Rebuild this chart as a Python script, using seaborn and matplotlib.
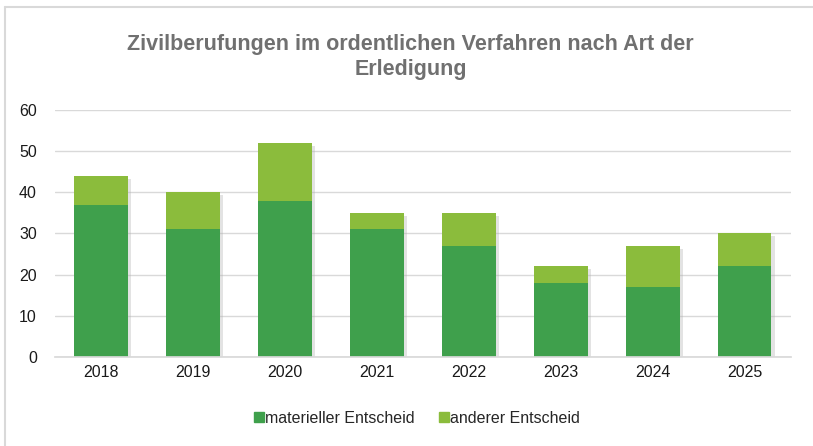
import numpy as np
import pandas as pd
import matplotlib
matplotlib.use("Agg")
import matplotlib.pyplot as plt
import matplotlib.patheffects as pe
from matplotlib.patches import Patch
from matplotlib.lines import Line2D
import seaborn as sns

# Data
years = ["2018", "2019", "2020", "2021", "2022", "2023", "2024", "2025"]
materiell = [37, 31, 38, 31, 27, 18, 17, 22]
anderer = [7, 9, 14, 4, 8, 4, 10, 8]

dark_green = "#3FA04C"
light_green = "#8BBC3C"

df = pd.DataFrame({"Jahr": years, "materiell": materiell, "anderer": anderer})
df["total"] = df["materiell"] + df["anderer"]

sns.set_theme(style="white")
plt.rcParams["font.family"] = ["Liberation Sans", "DejaVu Sans"]

fig = plt.figure(figsize=(8.13, 4.46), dpi=100)
ax = fig.add_axes([0.0677, 0.1996, 0.905, 0.5538])

shadow = [pe.SimplePatchShadow(offset=(2.5, -2), shadow_rgbFace="#b0b0b0", alpha=0.35), pe.Normal()]

# stacked bars: total in light green, materiell on top in dark green
sns.barplot(data=df, x="Jahr", y="total", color=light_green, saturation=1,
            width=0.58, ax=ax, linewidth=0)
sns.barplot(data=df, x="Jahr", y="materiell", color=dark_green, saturation=1,
            width=0.58, ax=ax, linewidth=0)
for i, p in enumerate(ax.patches):
    if i < len(years):
        p.set_path_effects(shadow)

ax.set_ylim(0, 60)
ax.set_xlim(-0.5, len(years) - 0.5)
ax.set_yticks(range(0, 61, 10))
ax.yaxis.grid(True, color="#d9d9d9", linewidth=1)
ax.set_axisbelow(True)
for s in ["top", "right", "left"]:
    ax.spines[s].set_visible(False)
ax.spines["bottom"].set_color("#d9d9d9")
ax.set_xlabel("")
ax.set_ylabel("")
ax.tick_params(axis="both", labelsize=11.5, colors="#1a1a1a", length=0, pad=6)
ax.tick_params(axis="y", pad=13)

fig.text(0.505, 0.872, "Zivilberufungen im ordentlichen Verfahren nach Art der\nErledigung",
         ha="center", va="center", fontsize=15.5, fontweight="bold", color="#707070",
         linespacing=1.3)

handles = [Patch(color=dark_green, label="materieller Entscheid"),
           Patch(color=light_green, label="anderer Entscheid")]
fig.legend(handles=handles, loc="center", bbox_to_anchor=(0.513, 0.062), ncol=2,
           frameon=False, fontsize=11.5, handlelength=0.6, handleheight=0.6,
           handletextpad=0.1, columnspacing=1.5)

# chart border (only left and top visible in the reference)
y_top = 1 - 7 / 446
x_left = 5 / 813
fig.add_artist(Line2D([x_left, 1.0], [y_top, y_top], transform=fig.transFigure,
                      color="#d9d9d9", linewidth=1.5))
fig.add_artist(Line2D([x_left, x_left], [0.0, y_top], transform=fig.transFigure,
                      color="#d9d9d9", linewidth=1.5))

plt.savefig("out.png", dpi=100)
